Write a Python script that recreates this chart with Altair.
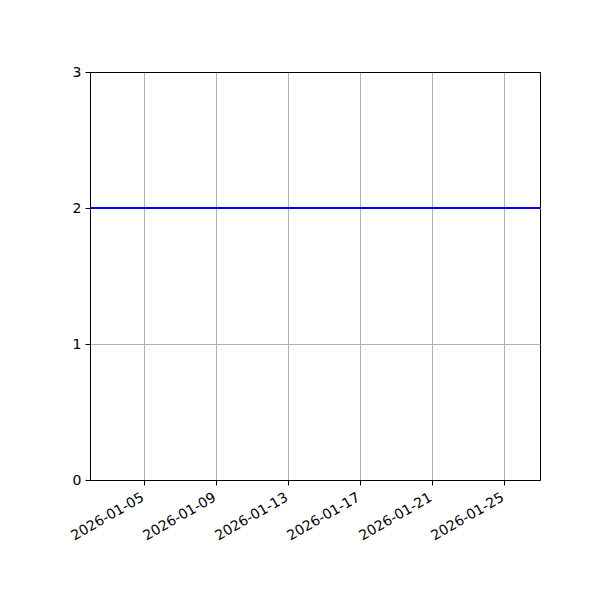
import altair as alt
import pandas as pd

# Data
dates = ["2026-01-02", "2026-01-27"]
values = [2, 2]
x_ticks = ["2026-01-05", "2026-01-09", "2026-01-13", "2026-01-17", "2026-01-21", "2026-01-25"]
y_ticks = [0, 1, 2, 3]

df = pd.DataFrame({"date": dates, "value": values})


def dt(s):
    y, m, d = map(int, s.split("-"))
    return alt.DateTime(year=y, month=m, date=d, utc=True)


chart = alt.Chart(df).mark_line(color="#0000ff", strokeWidth=2, clip=True).encode(
    x=alt.X(
        "date:T",
        scale=alt.Scale(type="utc", domain=[dt(dates[0]), dt(dates[-1])], nice=False),
        axis=alt.Axis(
            title=None,
            values=[dt(s) for s in x_ticks],
            labelExpr="utcFormat(datum.value, '%Y-%m-%d')",
            labelAngle=330,
            labelAlign="right",
            labelBaseline="top",
            labelPadding=5,
            labelOffset=-5,
            labelFontSize=14,
            labelFont="DejaVu Sans",
            labelColor="black",
            tickSize=5,
            tickColor="black",
            domainColor="black",
            grid=True,
            gridColor="#b0b0b0",
            gridWidth=1,
            labelOverlap=False,
        ),
    ),
    y=alt.Y(
        "value:Q",
        scale=alt.Scale(domain=[0, 3], nice=False, zero=False),
        axis=alt.Axis(
            title=None,
            values=y_ticks,
            format="d",
            labelFontSize=14,
            labelFont="DejaVu Sans",
            labelColor="black",
            labelPadding=4,
            tickSize=5,
            tickColor="black",
            domainColor="black",
            grid=True,
            gridColor={"condition": {"test": "datum.value == 3", "value": "black"}, "value": "#b0b0b0"},
            gridWidth=1,
        ),
    ),
).properties(
    width=450,
    height=408,
    autosize=alt.AutoSizeParams(type="none"),
    padding={"left": 82, "top": 64, "right": 52, "bottom": 104},
).configure(
    background="white"
).configure_view(
    stroke="black", strokeWidth=1
)

chart.save("out.html", embed_options={"renderer": "svg", "actions": False})
